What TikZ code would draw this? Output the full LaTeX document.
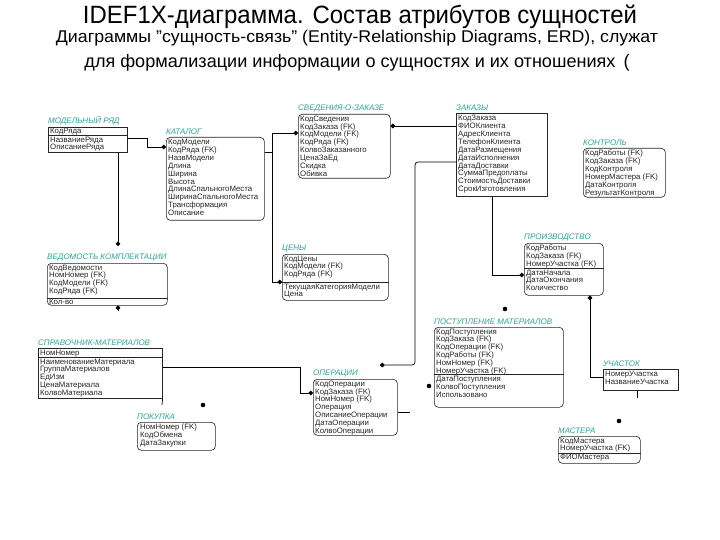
\documentclass[tikz,border=0pt]{standalone}
\usepackage{fontspec}
\setmainfont{Liberation Sans}
\usepackage{graphicx}
\usetikzlibrary{arrows.meta}
\definecolor{entname}{RGB}{40,165,150}
\tikzset{
  etitle/.style={anchor=south west, inner sep=0pt, font=\fontsize{8}{8}\selectfont\itshape, text=entname},
  ebox/.style={draw=black!85, line width=0.6pt, anchor=north west, inner sep=0pt},
  erbox/.style={ebox, rounded corners=4pt},
  etext/.style={anchor=north west, inner sep=0pt, align=left, font=\fontsize{7.8}{7.9}\selectfont, text=black!85},
  conn/.style={draw=black, line width=0.7pt},
  dotend/.style={-{Circle[length=4.6pt]}},
  dotstart/.style={{Circle[length=4.6pt]}-},
  reldot/.style={circle, fill=black, inner sep=0pt, minimum size=4.6pt},
  sep/.style={draw=black!85, line width=0.6pt},
}
\newcommand\entity[7]{%
  \node[#6, minimum width=#4pt, minimum height=#5pt] (#1) at (#2,#3) {};
  \node[etitle] (#1-t) at ([shift={(0,-2)}]#1.north west) {#7};
}
\begin{document}
\begin{tikzpicture}[x=1pt,y=-1pt]
\useasboundingbox[fill=white] (0,0) rectangle (720,540);
% headings
\node (h1) at (360,17) {\resizebox{554pt}{\height}{\fontsize{25}{25}\selectfont IDEF1X-диаграмма. Состав атрибутов сущностей}};
\node (h2) at (357,38) {\resizebox{602pt}{\height}{\fontsize{17}{17}\selectfont Диаграммы "сущность-связь" (Entity-Relationship Diagrams, ERD), служат}};
\node (h3) at (357,63) {\resizebox{545pt}{\height}{\fontsize{18}{18}\selectfont для формализации информации о сущностях и их отношениях\hspace{8pt}(}};

% entities
\entity{mr}{48}{127}{79}{25}{ebox}{МОДЕЛЬНЫЙ РЯД}
\node[etext] (mr-k) at ([shift={(2,1.2)}]mr.north west) {КодРяда};
\draw[sep] (mr.west |- 0,135.5) -- (mr.east |- 0,135.5);
\node[etext] (mr-n) at ([shift={(2,9.5)}]mr.north west) {НазваниеРяда\\ОписаниеРяда};

\entity{kat}{166}{137}{98}{83}{erbox}{КАТАЛОГ}
\node[etext] (kat-k) at ([shift={(2,2)}]kat.north west) {КодМодели\\КодРяда (FK)\\НазвМодели\\Длина\\Ширина\\Высота\\ДлинаСпальногоМеста\\ШиринаСпальногоМеста\\Трансформация\\Описание};

\entity{sv}{298}{114}{92}{64}{erbox}{СВЕДЕНИЯ-О-ЗАКАЗЕ}
\node[etext] (sv-k) at ([shift={(2,1.5)}]sv.north west) {КодСведения\\КодЗаказа (FK)\\КодМодели (FK)\\КодРяда (FK)\\КолвоЗаказанного\\ЦенаЗаЕд\\Скидка\\Обивка};

\entity{zak}{456}{113}{91}{83}{ebox}{ЗАКАЗЫ}
\node[etext] (zak-k) at ([shift={(2,2)}]zak.north west) {КодЗаказа\\ФИОКлиента\\АдресКлиента\\ТелефонКлиента\\ДатаРазмещения\\ДатаИсполнения\\ДатаДоставки\\СуммаПредоплаты\\СтоимостьДоставки\\СрокИзготовления};

\entity{kon}{583}{148}{82}{49}{erbox}{КОНТРОЛЬ}
\node[etext] (kon-k) at ([shift={(2,2)}]kon.north west) {КодРаботы (FK)\\КодЗаказа (FK)\\КодКонтроля\\НомерМастера (FK)\\ДатаКонтроля\\РезультатКонтроля};

\entity{ceny}{282}{254}{106}{46}{erbox}{ЦЕНЫ}
\node[etext] (ceny-k) at ([shift={(2,1.5)}]ceny.north west) {КодЦены\\КодМодели (FK)\\КодРяда (FK)};
\draw[sep] (ceny.west |- 0,282) -- (ceny.east |- 0,282);
\node[etext] (ceny-n) at ([shift={(2,29.5)}]ceny.north west) {ТекущаяКатегорияМодели\\Цена};

\entity{ved}{47}{263}{120}{42}{erbox}{ВЕДОМОСТЬ КОМПЛЕКТАЦИИ}
\node[etext] (ved-k) at ([shift={(2,1.5)}]ved.north west) {КодВедомости\\НомНомер (FK)\\КодМодели (FK)\\КодРяда (FK)};
\draw[sep] (ved.west |- 0,298) -- (ved.east |- 0,298);
\node[etext] (ved-n) at ([shift={(2,35.5)}]ved.north west) {Кол-во};

\entity{pr}{524}{243}{79}{52}{erbox}{ПРОИЗВОДСТВО}
\node[etext] (pr-k) at ([shift={(2,1.5)}]pr.north west) {КодРаботы\\КодЗаказа (FK)\\НомерУчастка (FK)};
\draw[sep] (pr.west |- 0,268) -- (pr.east |- 0,268);
\node[etext] (pr-n) at ([shift={(2,26.5)}]pr.north west) {ДатаНачала\\ДатаОкончания\\Количество};

\entity{sm}{38}{348}{124}{50}{ebox}{СПРАВОЧНИК-МАТЕРИАЛОВ}
\node[etext] (sm-k) at ([shift={(2,1.5)}]sm.north west) {НомНомер};
\draw[sep] (sm.west |- 0,357.5) -- (sm.east |- 0,357.5);
\node[etext] (sm-n) at ([shift={(2,10.5)}]sm.north west) {НаименованиеМатериала\\ГруппаМатериалов\\ЕдИзм\\ЦенаМатериала\\КолвоМатериала};

\entity{op}{313}{379}{84}{56}{erbox}{ОПЕРАЦИИ}
\node[etext] (op-k) at ([shift={(2,1.5)}]op.north west) {КодОперации\\КодЗаказа (FK)\\НомНомер (FK)\\Операция\\ОписаниеОперации\\ДатаОперации\\КолвоОперации};

\entity{pk}{137}{422}{78}{28}{erbox}{ПОКУПКА}
\node[etext] (pk-k) at ([shift={(3,2)}]pk.north west) {НомНомер (FK)\\КодОбмена\\ДатаЗакупки};

\entity{pm}{434}{327}{129}{80}{erbox}{ПОСТУПЛЕНИЕ МАТЕРИАЛОВ}
\node[etext] (pm-k) at ([shift={(2,1.5)}]pm.north west) {КодПоступления\\КодЗаказа (FK)\\КодОперации (FK)\\КодРаботы (FK)\\НомНомер (FK)\\НомерУчастка (FK)};
\draw[sep] (pm.west |- 0,374) -- (pm.east |- 0,374);
\node[etext] (pm-n) at ([shift={(2,49)}]pm.north west) {ДатаПоступления\\КолвоПоступления\\Использовано};

\entity{uc}{603}{369}{75}{21}{ebox}{УЧАСТОК}
\node[etext] (uc-k) at ([shift={(2,2)}]uc.north west) {НомерУчастка\\НазваниеУчастка};

\entity{ms}{558}{436}{82}{27}{erbox}{МАСТЕРА}
\node[etext] (ms-k) at ([shift={(2,1.5)}]ms.north west) {КодМастера\\НомерУчастка (FK)};
\draw[sep] (ms.west |- 0,453) -- (ms.east |- 0,453);
\node[etext] (ms-n) at ([shift={(2,18)}]ms.north west) {ФИОМастера};

% relationship dots whose lines are not shown
\node[reldot] (pmdot) at (505,309) {};
\node[reldot] (msdot) at (619,421) {};
\node[reldot] (pkdot) at (203,405) {};
\node[reldot] (pmldot) at (429,386) {};
\coordinate (opin) at (380,365);
\coordinate (vedin) at (118,246);

% connectors
\draw[conn,dotend] (mr.east |- 0,138) -- (147,138) -- (147,147) -- (kat.west |- 0,147);
\draw[conn,dotend] (kat.east |- 0,152) -- (272,152) -- (272,133) -- (sv.west |- 0,133);
\draw[conn,dotend] (kat.east |- 0,152) -- (272,152) -- (272,282) -- (ceny.west |- 0,282);
\draw[conn,dotstart] (sv.east |- 0,126) -- (zak.west |- 0,126);
\draw[conn,dotend,rounded corners=3pt] (zak.west |- 0,162) -- (415,162) -- (415,365) -- (opin);
\draw[conn,dotend] (zak.south -| 492,0) -- (492,275) -- (pr.west |- 0,275);
\draw[conn,dotend] (uc.west |- 0,377) -- (590,377) -- (pr.south -| 590,0);
\draw[conn] (uc.south -| 637,0) -- (637,398);
\draw[conn] (op.east |- 0,412) -- (410,412);
\draw[conn,dotend] (mr.south -| 118,0) -- (vedin);
\draw[conn,dotstart] (ved.south -| 118,0) -- (118,311);
\draw[conn,dotend] (sm.east |- 0,367) -- (300,367) -- (300,393) -- (op.west |- 0,393);
\draw[conn] (sm.south east) -- (162,405);
\end{tikzpicture}
\end{document}
